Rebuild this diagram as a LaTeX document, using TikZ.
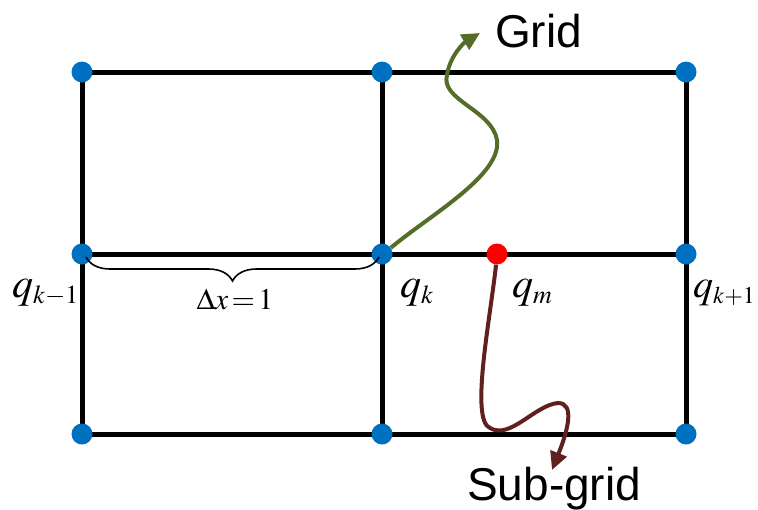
\documentclass[tikz,border=0pt]{standalone}
\usepackage{mathptmx}
\usepackage{fontspec}
\setmainfont{Liberation Sans}
\DeclareMathSizes{42}{42}{26}{20}
\DeclareMathSizes{40}{40}{24}{18}
\usetikzlibrary{decorations.pathreplacing,arrows.meta}
\definecolor{dotblue}{RGB}{0,112,192}
\definecolor{gridgreen}{RGB}{84,110,42}
\definecolor{subred}{RGB}{96,32,32}
\begin{document}
\begin{tikzpicture}[x=1pt,y=-1pt,
  gridline/.style={line width=5pt, line cap=rect},
  dot/.style={circle, fill=dotblue, inner sep=0pt, minimum size=21pt},
  reddot/.style={circle, fill=red, inner sep=0pt, minimum size=21pt},
  qlabel/.style={font=\fontsize{42}{42}\selectfont, inner sep=0pt, anchor=base west},
  bigtext/.style={font=\fontsize{46}{46}\selectfont, inner sep=0pt},
  wavy/.style={line width=4pt, -{Triangle[length=18pt,width=17pt]}}]
\useasboundingbox (0,0) rectangle (758,509);
% grid points
\coordinate (c11) at (82,72);  \coordinate (c12) at (382,72);  \coordinate (c13) at (686,72);
\coordinate (c21) at (82,254); \coordinate (c22) at (382,254); \coordinate (c23) at (686,254);
\coordinate (c31) at (82,434); \coordinate (c32) at (382,434); \coordinate (c33) at (686,434);
% grid lines
\draw[gridline] (c11) -- (c13) (c21) -- (c23) (c31) -- (c33)
                (c11) -- (c31) (c12) -- (c32) (c13) -- (c33);
% dots
\foreach \n in {c11,c12,c13,c21,c22,c23,c31,c32,c33}
  \node[dot] (d\n) at (\n) {};
\node[reddot] (qm) at (497,254) {};
% brace
\coordinate (bl) at (86,257);
\coordinate (br) at (379,257);
\draw[line width=1.6pt, decorate, decoration={brace, amplitude=24pt, mirror}] (bl) -- (br);
\node[font=\fontsize{30}{30}\selectfont] (dx) at (235,299) {$\Delta x\,{=}\,1$};
% labels
\node[qlabel] (lkm) at (12,297) {$q_{k-1}$};
\node[qlabel] (lk) at (400,297) {$q_k$};
\node[qlabel] (lm) at (512,297) {$q_m$};
\node[qlabel, font=\fontsize{40}{40}\selectfont] (lkp) at (693,297) {$q_{k+1}$};
% Grid arrow
\coordinate (gtip) at (480,33);
\draw[wavy, gridgreen] (dc22.35) .. controls (430,215) and (502,175) .. (497,140)
   .. controls (492,110) and (440,100) .. (447,75)
   .. controls (450,55) and (465,42) .. (gtip);
\node[bigtext, anchor=base west] (grid) at (495,47) {Grid};
% Sub-grid arrow
\coordinate (stip) at (552,470);
\draw[wavy, subred] (qm.-95) .. controls (490,320) and (470,420) .. (490,428)
   .. controls (510,440) and (535,405) .. (558,403)
   .. controls (575,403) and (568,430) .. (stip);
\node[bigtext, anchor=base west] (sub) at (467,500) {Sub-grid};
\end{tikzpicture}
\end{document}
